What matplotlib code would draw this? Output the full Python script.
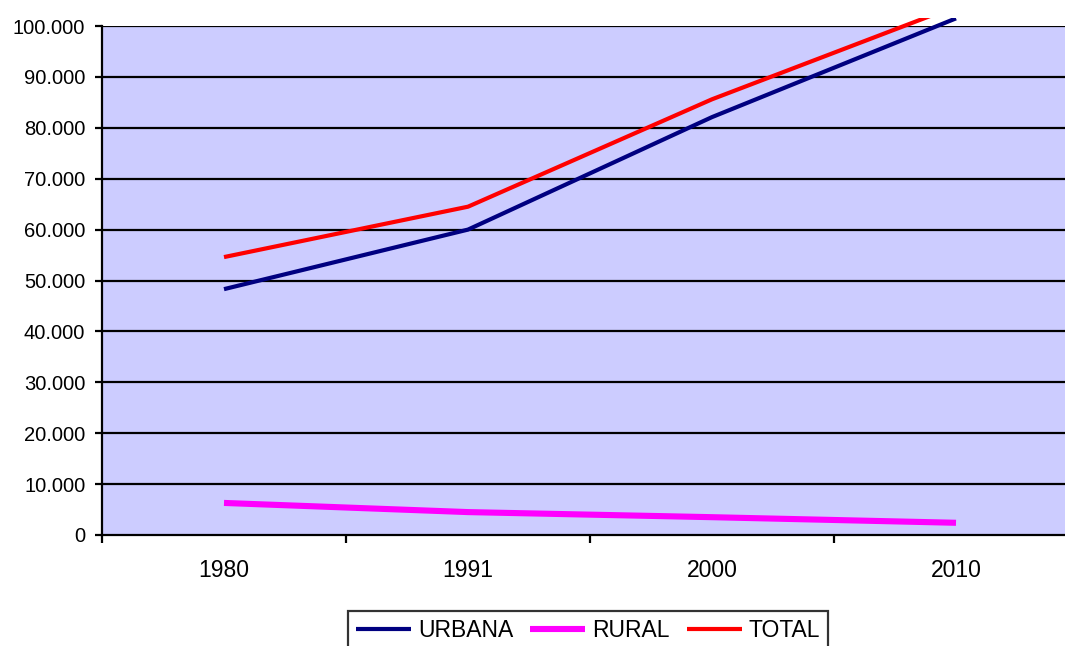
import matplotlib.pyplot as plt
from matplotlib.transforms import Bbox, TransformedBbox
from matplotlib.ticker import FuncFormatter, FixedLocator, NullFormatter

plt.rcParams['font.family'] = ['Liberation Sans', 'DejaVu Sans']

# Poblacion por censo (habitantes)
anios = ["1980", "1991", "2000", "2010"]
urbana = [48300, 60000, 82100, 101500]
rural = [6300, 4500, 3500, 2400]
total = [54600, 64500, 85600, 103900]

fig = plt.figure(figsize=(10.65, 6.46), dpi=100)
ax = fig.add_axes([102 / 1065, 1 - 535 / 646, 976 / 1065, 509 / 646])
ax.set_facecolor("#CCCCFF")

x = list(range(len(anios)))
ax.set_xlim(-0.5, len(anios) - 0.5)
ax.set_ylim(0, 100000)

# las lineas se salen un poco por arriba del area de trazado
recorte = TransformedBbox(Bbox([[0, 0], [1, 1 - 18 / 646]]), fig.transFigure)

series = [
    ("URBANA", urbana, "#000080", 3.0),
    ("RURAL", rural, "#FF00FF", 4.4),
    ("TOTAL", total, "#FF0000", 3.0),
]
for nombre, valores, color, ancho in series:
    linea, = ax.plot(x, valores, color=color, lw=ancho, label=nombre,
                     solid_capstyle="butt", zorder=3)
    linea.set_clip_box(recorte)

# cuadricula horizontal
for v in range(10000, 100001, 10000):
    ax.axhline(v, color="black", lw=1.6, zorder=1)

ax.yaxis.set_major_locator(FixedLocator(range(0, 100001, 10000)))
ax.yaxis.set_major_formatter(
    FuncFormatter(lambda v, p: f"{v:,.0f}".replace(",", ".")))

# marcas entre categorias, etiquetas centradas
ax.xaxis.set_major_locator(FixedLocator([i - 0.5 for i in range(len(anios) + 1)]))
ax.xaxis.set_major_formatter(NullFormatter())
ax.set_xticks(x, minor=True)
ax.set_xticklabels(anios, minor=True)
ax.tick_params(axis="x", which="minor", length=0, pad=17, labelsize=16.5)
ax.tick_params(axis="x", which="major", length=6, width=1.6, direction="out")
ax.tick_params(axis="y", length=5, width=1.6, direction="out", labelsize=14.5, pad=7)

for lado in ["top", "right"]:
    ax.spines[lado].set_visible(False)
for lado in ["left", "bottom"]:
    ax.spines[lado].set_linewidth(1.6)

leg = fig.legend(loc="upper center", bbox_to_anchor=(588 / 1065, 1 - 611 / 646),
                 ncol=3, fontsize=16.5, frameon=True, fancybox=False,
                 handlelength=2.4, handletextpad=0.3, columnspacing=0.75,
                 borderpad=0.35, borderaxespad=0)
leg.get_frame().set_edgecolor("black")
leg.get_frame().set_linewidth(1.6)

fig.savefig("out.png", dpi=100)
